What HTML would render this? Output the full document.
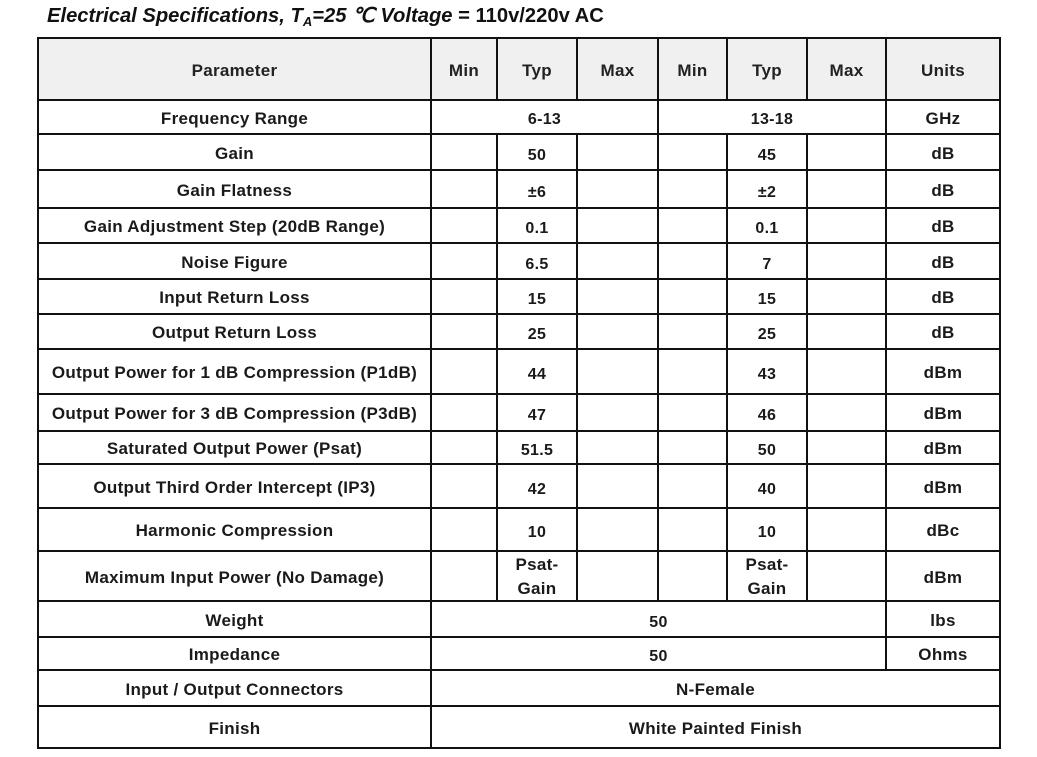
<!DOCTYPE html>
<html><head><meta charset="utf-8">
<style>
html,body{margin:0;padding:0;background:#fff;}
body{width:1037px;height:757px;position:relative;overflow:hidden;font-family:"Liberation Sans",Arial,sans-serif;color:#1a1a1a;}
.t{position:absolute;left:47px;top:3px;font-size:20.2px;font-weight:bold;white-space:nowrap;color:#111;}
.t i{font-style:italic;}
.t sub{font-size:13px;vertical-align:-4px;}
.hl{position:absolute;height:2px;background:#111;left:37px;width:964px;}
.vl{position:absolute;width:2px;background:#111;}
.c{position:absolute;display:flex;align-items:center;justify-content:center;text-align:center;font-weight:bold;font-size:17px;letter-spacing:0.3px;padding-top:3px;box-sizing:border-box;line-height:24px;}
.n{font-size:16px;padding-top:7px;}
.hd{position:absolute;left:38px;top:38px;width:962px;height:62px;background:#f0f0f0;}
</style></head><body>
<div class="t"><i>Electrical Specifications, T<sub>A</sub>=25 ℃ Voltage</i> = 110v/220v AC</div>
<div class="hd"></div>

<div class="hl" style="top:37px"></div>
<div class="hl" style="top:99px"></div>
<div class="hl" style="top:133px"></div>
<div class="hl" style="top:169px"></div>
<div class="hl" style="top:207px"></div>
<div class="hl" style="top:242px"></div>
<div class="hl" style="top:278px"></div>
<div class="hl" style="top:313px"></div>
<div class="hl" style="top:348px"></div>
<div class="hl" style="top:393px"></div>
<div class="hl" style="top:430px"></div>
<div class="hl" style="top:463px"></div>
<div class="hl" style="top:507px"></div>
<div class="hl" style="top:550px"></div>
<div class="hl" style="top:600px"></div>
<div class="hl" style="top:636px"></div>
<div class="hl" style="top:669px"></div>
<div class="hl" style="top:705px"></div>
<div class="hl" style="top:747px"></div>

<div class="vl" style="left:37px;top:37px;height:712px"></div>
<div class="vl" style="left:999px;top:37px;height:712px"></div>
<div class="vl" style="left:430px;top:37px;height:712px"></div>
<div class="vl" style="left:885px;top:37px;height:634px"></div>
<div class="vl" style="left:657px;top:37px;height:565px"></div>
<div class="vl" style="left:496px;top:37px;height:64px"></div>
<div class="vl" style="left:576px;top:37px;height:64px"></div>
<div class="vl" style="left:726px;top:37px;height:64px"></div>
<div class="vl" style="left:806px;top:37px;height:64px"></div>
<div class="vl" style="left:496px;top:133px;height:469px"></div>
<div class="vl" style="left:576px;top:133px;height:469px"></div>
<div class="vl" style="left:726px;top:133px;height:469px"></div>
<div class="vl" style="left:806px;top:133px;height:469px"></div>

<div class="c" style="left:38px;top:38px;width:393px;height:62px;color:#222">Parameter</div>
<div class="c" style="left:431px;top:38px;width:66px;height:62px;color:#222">Min</div>
<div class="c" style="left:497px;top:38px;width:80px;height:62px;color:#222">Typ</div>
<div class="c" style="left:577px;top:38px;width:81px;height:62px;color:#222">Max</div>
<div class="c" style="left:658px;top:38px;width:69px;height:62px;color:#222">Min</div>
<div class="c" style="left:727px;top:38px;width:80px;height:62px;color:#222">Typ</div>
<div class="c" style="left:807px;top:38px;width:79px;height:62px;color:#222">Max</div>
<div class="c" style="left:886px;top:38px;width:114px;height:62px;color:#222">Units</div>

<div class="c" style="left:38px;top:100px;width:393px;height:34px">Frequency Range</div>
<div class="c n" style="left:431px;top:100px;width:227px;height:34px;padding-top:5px">6-13</div>
<div class="c n" style="left:658px;top:100px;width:228px;height:34px;padding-top:5px">13-18</div>
<div class="c" style="left:886px;top:100px;width:114px;height:34px">GHz</div>

<div class="c" style="left:38px;top:134px;width:393px;height:36px">Gain</div>
<div class="c n" style="left:497px;top:134px;width:80px;height:36px">50</div>
<div class="c n" style="left:727px;top:134px;width:80px;height:36px">45</div>
<div class="c" style="left:886px;top:134px;width:114px;height:36px">dB</div>

<div class="c" style="left:38px;top:170px;width:393px;height:38px">Gain Flatness</div>
<div class="c n" style="left:497px;top:170px;width:80px;height:38px">±6</div>
<div class="c n" style="left:727px;top:170px;width:80px;height:38px">±2</div>
<div class="c" style="left:886px;top:170px;width:114px;height:38px">dB</div>

<div class="c" style="left:38px;top:208px;width:393px;height:35px">Gain Adjustment Step (20dB Range)</div>
<div class="c n" style="left:497px;top:208px;width:80px;height:35px">0.1</div>
<div class="c n" style="left:727px;top:208px;width:80px;height:35px">0.1</div>
<div class="c" style="left:886px;top:208px;width:114px;height:35px">dB</div>

<div class="c" style="left:38px;top:243px;width:393px;height:36px">Noise Figure</div>
<div class="c n" style="left:497px;top:243px;width:80px;height:36px">6.5</div>
<div class="c n" style="left:727px;top:243px;width:80px;height:36px">7</div>
<div class="c" style="left:886px;top:243px;width:114px;height:36px">dB</div>

<div class="c" style="left:38px;top:279px;width:393px;height:35px">Input Return Loss</div>
<div class="c n" style="left:497px;top:279px;width:80px;height:35px">15</div>
<div class="c n" style="left:727px;top:279px;width:80px;height:35px">15</div>
<div class="c" style="left:886px;top:279px;width:114px;height:35px">dB</div>

<div class="c" style="left:38px;top:314px;width:393px;height:35px">Output Return Loss</div>
<div class="c n" style="left:497px;top:314px;width:80px;height:35px">25</div>
<div class="c n" style="left:727px;top:314px;width:80px;height:35px">25</div>
<div class="c" style="left:886px;top:314px;width:114px;height:35px">dB</div>

<div class="c" style="left:38px;top:349px;width:393px;height:45px">Output Power for 1 dB Compression (P1dB)</div>
<div class="c n" style="left:497px;top:349px;width:80px;height:45px">44</div>
<div class="c n" style="left:727px;top:349px;width:80px;height:45px">43</div>
<div class="c" style="left:886px;top:349px;width:114px;height:45px">dBm</div>

<div class="c" style="left:38px;top:394px;width:393px;height:37px">Output Power for 3 dB Compression (P3dB)</div>
<div class="c n" style="left:497px;top:394px;width:80px;height:37px">47</div>
<div class="c n" style="left:727px;top:394px;width:80px;height:37px">46</div>
<div class="c" style="left:886px;top:394px;width:114px;height:37px">dBm</div>

<div class="c" style="left:38px;top:431px;width:393px;height:33px">Saturated Output Power (Psat)</div>
<div class="c n" style="left:497px;top:431px;width:80px;height:33px">51.5</div>
<div class="c n" style="left:727px;top:431px;width:80px;height:33px">50</div>
<div class="c" style="left:886px;top:431px;width:114px;height:33px">dBm</div>

<div class="c" style="left:38px;top:464px;width:393px;height:44px">Output Third Order Intercept (IP3)</div>
<div class="c n" style="left:497px;top:464px;width:80px;height:44px">42</div>
<div class="c n" style="left:727px;top:464px;width:80px;height:44px">40</div>
<div class="c" style="left:886px;top:464px;width:114px;height:44px">dBm</div>

<div class="c" style="left:38px;top:508px;width:393px;height:43px">Harmonic Compression</div>
<div class="c n" style="left:497px;top:508px;width:80px;height:43px">10</div>
<div class="c n" style="left:727px;top:508px;width:80px;height:43px">10</div>
<div class="c" style="left:886px;top:508px;width:114px;height:43px">dBc</div>

<div class="c" style="left:38px;top:551px;width:393px;height:50px">Maximum Input Power (No Damage)</div>
<div class="c" style="left:497px;top:551px;width:80px;height:50px;padding-top:2px">Psat-<br>Gain</div>
<div class="c" style="left:727px;top:551px;width:80px;height:50px;padding-top:2px">Psat-<br>Gain</div>
<div class="c" style="left:886px;top:551px;width:114px;height:50px">dBm</div>

<div class="c" style="left:38px;top:601px;width:393px;height:36px">Weight</div>
<div class="c n" style="left:431px;top:601px;width:455px;height:36px">50</div>
<div class="c" style="left:886px;top:601px;width:114px;height:36px">lbs</div>

<div class="c" style="left:38px;top:637px;width:393px;height:33px">Impedance</div>
<div class="c n" style="left:431px;top:637px;width:455px;height:33px">50</div>
<div class="c" style="left:886px;top:637px;width:114px;height:33px">Ohms</div>

<div class="c" style="left:38px;top:670px;width:393px;height:36px">Input / Output Connectors</div>
<div class="c" style="left:431px;top:670px;width:569px;height:36px">N-Female</div>

<div class="c" style="left:38px;top:706px;width:393px;height:42px">Finish</div>
<div class="c" style="left:431px;top:706px;width:569px;height:42px">White Painted Finish</div>
</body></html>
